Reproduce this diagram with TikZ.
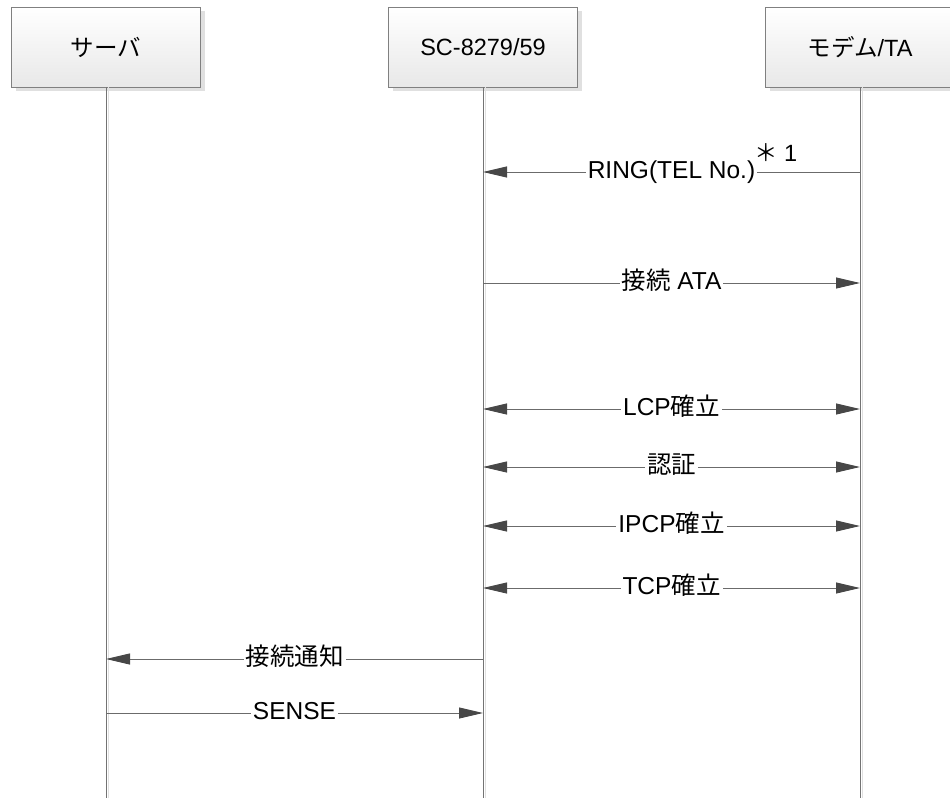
\documentclass[tikz,border=0pt]{standalone}
\usepackage{fontspec}
\setmainfont{Liberation Sans}
\newfontfamily\jp{Noto Sans CJK JP}
\usetikzlibrary{arrows.meta,shadows}
\begin{document}
\begin{tikzpicture}[x=1pt,y=-1pt,
  tri/.tip={Triangle[length=24pt,width=11pt,color=black!72]},
  shtri/.tip={Triangle[length=24pt,width=11pt,color=black!12]},
  actor/.style={draw=black!50, line width=0.9pt, top color=white, bottom color=black!9,
    minimum width=189pt, minimum height=80pt, inner sep=0pt,
    font=\fontsize{23.5}{27}\selectfont,
    drop shadow={shadow xshift=4pt, shadow yshift=-4pt, fill=black!12, opacity=1}},
  life/.style={draw=black!55, line width=0.9pt,
    preaction={draw=black!12, line width=1pt, transform canvas={xshift=2pt}}},
  msg/.style={draw=black!58, line width=0.9pt},
  lbl/.style={fill=white, inner xsep=2pt, inner ysep=0pt, text height=0.72em, text depth=0.06em,
    yshift=-3pt, font=\fontsize{24.5}{28}\selectfont}
]
\useasboundingbox (0,0) rectangle (950,798);

% actors
\node[actor] (srv) at (106,47) {\jp サーバ};
\node[actor] (sc)  at (483,47) {SC-8279/59};
\node[actor] (mdm) at (860,47) {{\jp モデム}/TA};

% lifeline ends
\coordinate (srvend) at (106,798);
\coordinate (scend)  at (483,798);
\coordinate (mdmend) at (860,798);
\draw[life] (srv.south) -- (srvend);
\draw[life] (sc.south)  -- (scend);
\draw[life] (mdm.south) -- (mdmend);

% message end points
\coordinate (a1) at (483,172); \coordinate (b1) at (860,172);
\coordinate (a2) at (483,283); \coordinate (b2) at (860,283);
\coordinate (a3) at (483,409); \coordinate (b3) at (860,409);
\coordinate (a4) at (483,467); \coordinate (b4) at (860,467);
\coordinate (a5) at (483,526); \coordinate (b5) at (860,526);
\coordinate (a6) at (483,588); \coordinate (b6) at (860,588);
\coordinate (a7) at (106,659); \coordinate (b7) at (483,659);
\coordinate (a8) at (106,713); \coordinate (b8) at (483,713);

% arrowhead shadows
\begin{scope}[transform canvas={xshift=2pt,yshift=-2.5pt}]
\draw[draw=none,shtri-] (a1) -- (b1);
\draw[draw=none,-shtri] (a2) -- (b2);
\draw[draw=none,shtri-shtri] (a3) -- (b3);
\draw[draw=none,shtri-shtri] (a4) -- (b4);
\draw[draw=none,shtri-shtri] (a5) -- (b5);
\draw[draw=none,shtri-shtri] (a6) -- (b6);
\draw[draw=none,shtri-] (a7) -- (b7);
\draw[draw=none,-shtri] (a8) -- (b8);
\end{scope}

\draw[msg,tri-] (a1) -- node[lbl] (m1) {RING(TEL No.)} (b1);
\node[anchor=west, inner sep=0pt, font=\fontsize{23.5}{27}\selectfont] (m1n) at (754,153) {{\jp ＊} 1};
\draw[msg,-tri] (a2) -- node[lbl] (m2) {{\jp 接続} ATA} (b2);
\draw[msg,tri-tri] (a3) -- node[lbl] (m3) {LCP{\jp 確立}} (b3);
\draw[msg,tri-tri] (a4) -- node[lbl] (m4) {\jp 認証} (b4);
\draw[msg,tri-tri] (a5) -- node[lbl] (m5) {IPCP{\jp 確立}} (b5);
\draw[msg,tri-tri] (a6) -- node[lbl] (m6) {TCP{\jp 確立}} (b6);
\draw[msg,tri-] (a7) -- node[lbl] (m7) {\jp 接続通知} (b7);
\draw[msg,-tri] (a8) -- node[lbl] (m8) {SENSE} (b8);
\end{tikzpicture}
\end{document}
